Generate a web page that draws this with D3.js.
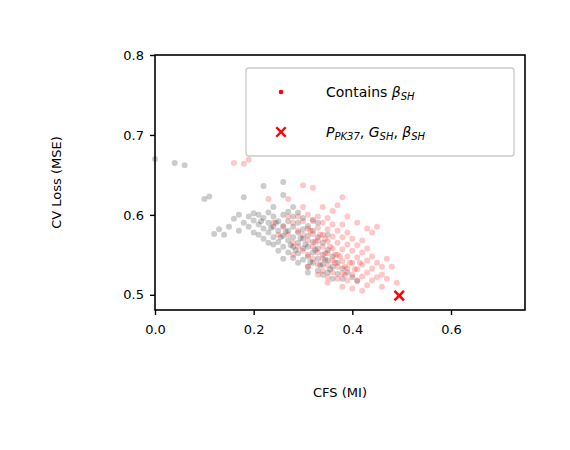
<!DOCTYPE html>
<html><head><meta charset="utf-8">
<script src="https://cdn.jsdelivr.net/npm/d3@7"></script>
<style>body{margin:0;background:#fff}text{font-family:"DejaVu Sans",sans-serif}</style>
</head><body><div id="chart"></div>
<script>
// points without beta_SH (black)
const blackPts = [
[0.00,0.670],[0.04,0.665],[0.06,0.662],[0.10,0.620],[0.11,0.623],[0.13,0.582],[0.12,0.576],[0.14,0.575],
[0.18,0.622],[0.22,0.636],[0.26,0.641],[0.20,0.602],[0.26,0.625],[0.24,0.610],[0.28,0.610],
[0.16,0.595],[0.17,0.600],[0.18,0.590],[0.19,0.585],[0.19,0.598],[0.20,0.593],[0.20,0.578],[0.21,0.588],
[0.21,0.575],[0.22,0.596],[0.22,0.583],[0.22,0.570],[0.23,0.590],[0.23,0.578],[0.23,0.565],[0.24,0.598],
[0.24,0.585],[0.24,0.572],[0.25,0.592],[0.25,0.580],[0.25,0.566],[0.25,0.555],[0.26,0.600],[0.26,0.586],
[0.26,0.574],[0.26,0.560],[0.27,0.592],[0.27,0.580],[0.27,0.568],[0.27,0.553],[0.28,0.598],[0.28,0.585],
[0.28,0.572],[0.28,0.560],[0.28,0.546],[0.29,0.590],[0.29,0.578],[0.29,0.565],[0.29,0.552],[0.30,0.596],
[0.30,0.582],[0.30,0.570],[0.30,0.558],[0.30,0.544],[0.31,0.586],[0.31,0.574],[0.31,0.560],[0.31,0.548],
[0.31,0.535],[0.32,0.580],[0.32,0.566],[0.32,0.553],[0.32,0.540],[0.33,0.572],[0.33,0.558],[0.33,0.545],
[0.33,0.530],[0.34,0.565],[0.34,0.550],[0.34,0.538],[0.35,0.556],[0.35,0.543],[0.35,0.528],[0.36,0.548],
[0.36,0.535],[0.37,0.540],[0.37,0.526],[0.38,0.533],[0.38,0.520],[0.39,0.528],[0.40,0.522],[0.41,0.518],
[0.27,0.604],[0.29,0.603],[0.33,0.590],[0.35,0.575],[0.32,0.594],[0.24,0.563],[0.21,0.600],[0.23,0.603],
[0.15,0.585],[0.17,0.580],[0.26,0.545],[0.29,0.540],[0.31,0.528],[0.34,0.525],[0.36,0.520],
[0.215,0.592],[0.235,0.584],[0.255,0.572],[0.275,0.562],[0.295,0.571],[0.305,0.563],[0.325,0.556],[0.345,0.544],
[0.285,0.556],[0.265,0.579],[0.245,0.590],[0.315,0.541],[0.335,0.537],[0.355,0.532]
];
// points containing beta_SH (red)
const redPts = [
[0.16,0.665],[0.18,0.664],[0.19,0.669],[0.23,0.620],[0.30,0.637],[0.32,0.634],[0.37,0.612],[0.38,0.622],
[0.45,0.585],[0.44,0.578],[0.47,0.545],[0.48,0.535],[0.46,0.525],[0.49,0.515],[0.27,0.620],
[0.26,0.585],[0.27,0.575],[0.28,0.590],[0.28,0.565],[0.29,0.598],[0.29,0.580],[0.29,0.560],[0.30,0.592],
[0.30,0.575],[0.30,0.555],[0.31,0.600],[0.31,0.583],[0.31,0.568],[0.31,0.550],[0.32,0.592],[0.32,0.576],
[0.32,0.560],[0.32,0.545],[0.33,0.598],[0.33,0.584],[0.33,0.568],[0.33,0.553],[0.33,0.538],[0.34,0.590],
[0.34,0.575],[0.34,0.560],[0.34,0.545],[0.34,0.530],[0.35,0.596],[0.35,0.582],[0.35,0.567],[0.35,0.552],
[0.35,0.537],[0.35,0.522],[0.36,0.588],[0.36,0.573],[0.36,0.558],[0.36,0.543],[0.36,0.528],[0.37,0.580],
[0.37,0.565],[0.37,0.550],[0.37,0.535],[0.37,0.520],[0.38,0.588],[0.38,0.572],[0.38,0.557],[0.38,0.542],
[0.38,0.527],[0.39,0.578],[0.39,0.563],[0.39,0.548],[0.39,0.533],[0.39,0.518],[0.40,0.570],[0.40,0.555],
[0.40,0.540],[0.40,0.525],[0.41,0.562],[0.41,0.547],[0.41,0.532],[0.41,0.517],[0.42,0.568],[0.42,0.553],
[0.42,0.538],[0.42,0.523],[0.43,0.558],[0.43,0.543],[0.43,0.528],[0.43,0.512],[0.44,0.548],[0.44,0.533],
[0.44,0.518],[0.45,0.540],[0.45,0.522],[0.46,0.535],[0.46,0.510],[0.47,0.520],[0.36,0.605],[0.39,0.598],
[0.41,0.590],[0.43,0.583],[0.27,0.598],[0.25,0.575],[0.31,0.535],[0.33,0.525],[0.35,0.515],[0.38,0.510],
[0.40,0.508],[0.42,0.505],[0.30,0.610],[0.34,0.610],[0.28,0.550],[0.24,0.590],
[0.315,0.580],[0.325,0.566],[0.345,0.552],[0.355,0.560],[0.365,0.540],[0.375,0.548],[0.385,0.535],[0.395,0.540],
[0.405,0.532],[0.415,0.540],[0.345,0.570],[0.335,0.575],[0.365,0.550],[0.385,0.525]
];
const bestPt = [[0.495,0.499]];
const xTicks = [0.0,0.2,0.4,0.6];
const yTicks = [0.5,0.6,0.7,0.8];

const width = 570, height = 450;
const margin = {left:155, right:45, top:55, bottom:140};
const svg = d3.select("#chart").append("svg").attr("width",width).attr("height",height);

const x = d3.scaleLinear().domain([0,0.75]).range([margin.left,width-margin.right]);
const y = d3.scaleLinear().domain([0.481,0.8]).range([height-margin.bottom,margin.top]);

const g = svg.append("g");
g.selectAll("circle.b").data(blackPts).enter().append("circle")
  .attr("cx",d=>x(d[0])).attr("cy",d=>y(d[1])).attr("r",3)
  .attr("fill","#000").attr("fill-opacity",0.2);
g.selectAll("circle.r").data(redPts).enter().append("circle")
  .attr("cx",d=>x(d[0])).attr("cy",d=>y(d[1])).attr("r",3)
  .attr("fill","#ff0000").attr("fill-opacity",0.22);

const cross = d3.symbol().type(d3.symbolX).size(60);
g.selectAll("path.best").data(bestPt).enter().append("path")
  .attr("d",cross).attr("transform",d=>`translate(${x(d[0])},${y(d[1])})`)
  .attr("stroke","#ff0000").attr("stroke-width",2.6).attr("fill","none");

// frame
svg.append("rect").attr("x",margin.left).attr("y",margin.top)
  .attr("width",width-margin.left-margin.right).attr("height",height-margin.top-margin.bottom)
  .attr("fill","none").attr("stroke","#000").attr("stroke-width",1.6);

const xa = svg.append("g").attr("transform",`translate(0,${height-margin.bottom})`)
  .call(d3.axisBottom(x).tickValues(xTicks).tickFormat(d3.format(".1f")).tickSize(5).tickPadding(10));
const ya = svg.append("g").attr("transform",`translate(${margin.left},0)`)
  .call(d3.axisLeft(y).tickValues(yTicks).tickFormat(d3.format(".1f")).tickSize(5).tickPadding(6));
[xa,ya].forEach(a=>{a.select(".domain").remove();
  a.selectAll("line").attr("stroke-width",1.4);
  a.selectAll("text").attr("font-size",13).attr("font-family","DejaVu Sans");});

svg.append("text").attr("x",(margin.left+width-margin.right)/2).attr("y",397)
  .attr("text-anchor","middle").attr("font-size",13).text("CFS (MI)");
svg.append("text").attr("transform",`translate(61,${(margin.top+height-margin.bottom)/2}) rotate(-90)`)
  .attr("text-anchor","middle").attr("font-size",13).text("CV Loss (MSE)");

// legend
const lg = svg.append("g");
lg.append("rect").attr("x",246).attr("y",68).attr("width",268).attr("height",88).attr("rx",3)
  .attr("fill","#fff").attr("fill-opacity",0.8).attr("stroke","#ccc").attr("stroke-width",1.3);
lg.append("circle").attr("cx",281).attr("cy",92).attr("r",2.3).attr("fill","#ff0000");
lg.append("path").attr("d",cross).attr("transform","translate(281,132)")
  .attr("stroke","#ff0000").attr("stroke-width",2.4).attr("fill","none");
const t1 = lg.append("text").attr("x",326).attr("y",97).attr("font-size",14);
t1.append("tspan").text("Contains ");
t1.append("tspan").attr("font-style","italic").text("β");
t1.append("tspan").attr("font-style","italic").attr("font-size",10).attr("dy",3).text("SH");
const t2 = lg.append("text").attr("x",326).attr("y",137).attr("font-size",14);
t2.append("tspan").attr("font-style","italic").text("P");
t2.append("tspan").attr("font-style","italic").attr("font-size",10).attr("dy",3).text("PK37");
t2.append("tspan").attr("dy",-3).text(", ");
t2.append("tspan").attr("font-style","italic").text("G");
t2.append("tspan").attr("font-style","italic").attr("font-size",10).attr("dy",3).text("SH");
t2.append("tspan").attr("dy",-3).text(", ");
t2.append("tspan").attr("font-style","italic").text("β");
t2.append("tspan").attr("font-style","italic").attr("font-size",10).attr("dy",3).text("SH");
</script></body></html>
